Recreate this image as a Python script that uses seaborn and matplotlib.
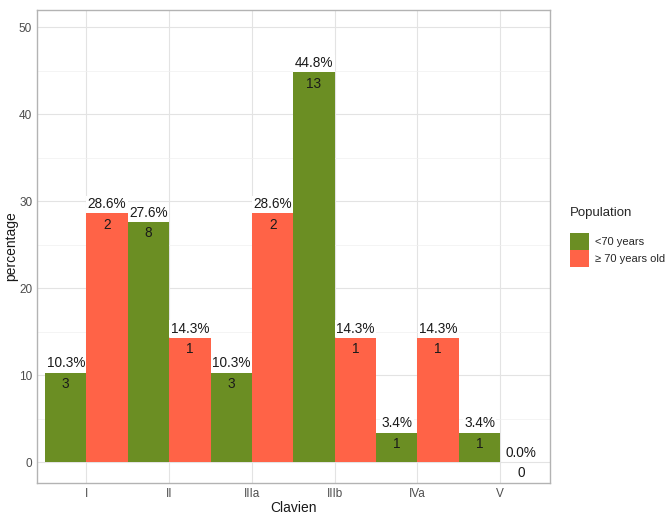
import pandas as pd
import matplotlib
matplotlib.use("Agg")
import matplotlib.pyplot as plt
import seaborn as sns

# data
clavien = ["I", "II", "IIIa", "IIIb", "IVa", "V"]
groups = ["<70 years", "\u2265 70 years old"]
pct_young = [10.3, 27.6, 10.3, 44.8, 3.4, 3.4]
pct_old = [28.6, 14.3, 28.6, 14.3, 14.3, 0.0]
n_young = [3, 8, 3, 13, 1, 1]
n_old = [2, 1, 2, 1, 1, 0]
colors = ["#6B8E23", "#FF6347"]

df = pd.DataFrame({
    "Clavien": clavien * 2,
    "Population": [groups[0]] * 6 + [groups[1]] * 6,
    "percentage": pct_young + pct_old,
    "n": n_young + n_old,
})

sns.set_style("whitegrid")
plt.rcParams["font.family"] = ["Liberation Sans", "DejaVu Sans"]

fig = plt.figure(figsize=(6.69, 5.16), dpi=100)
ax = fig.add_axes([0.055, 0.064, 0.767, 0.917])

sns.barplot(data=df, x="Clavien", y="percentage", hue="Population",
            order=clavien, hue_order=groups, palette=colors,
            width=1.0, saturation=1, errorbar=None, linewidth=0, ax=ax)

# labels: percent above the bar, count just inside the top
for cont, pcts, ns in zip(ax.containers, [pct_young, pct_old], [n_young, n_old]):
    for bar, p, n in zip(cont, pcts, ns):
        xc = bar.get_x() + bar.get_width() / 2
        h = bar.get_height()
        ax.annotate(f"{p:.1f}%", (xc, h), xytext=(0, 1.5), textcoords="offset points",
                    ha="center", va="bottom", fontsize=9.8, color="#1a1a1a",
                    bbox=dict(boxstyle="square,pad=0.1", fc="white", ec="none"))
        ax.annotate(f"{n}", (xc, h), xytext=(0, -3), textcoords="offset points",
                    ha="center", va="top", fontsize=9.8, color="#1a1a1a")

ax.set_xlim(-0.6, 5.6)
ax.set_ylim(-2.4, 52)
ax.set_yticks([0, 10, 20, 30, 40, 50])
ax.set_yticks([5, 15, 25, 35, 45], minor=True)
ax.grid(True, which="major", color="#E3E3E3", linewidth=0.8)
ax.grid(True, which="minor", axis="y", color="#F0F0F0", linewidth=0.5)
ax.set_axisbelow(True)
for s in ax.spines.values():
    s.set_color("#B3B3B3")
    s.set_linewidth(1)
ax.tick_params(axis="both", which="major", length=2.5, color="#B3B3B3",
               labelsize=8.5, labelcolor="#4D4D4D", pad=0.8)
ax.tick_params(axis="y", which="minor", length=0)
ax.set_xlabel("Clavien", fontsize=10, color="#1a1a1a", labelpad=1)
ax.set_ylabel("percentage", fontsize=10, color="#1a1a1a", va="center")
ax.yaxis.set_label_coords(-0.05, 0.5)

leg = ax.legend(title="Population", loc="center left", bbox_to_anchor=(1.02, 0.52),
                frameon=False, fontsize=8, title_fontsize=9.5, handlelength=1.7,
                handleheight=2.0, handletextpad=0.5, labelspacing=0.0, alignment="left")
leg._legend_box.sep = 10

fig.savefig("out.png", dpi=100)
